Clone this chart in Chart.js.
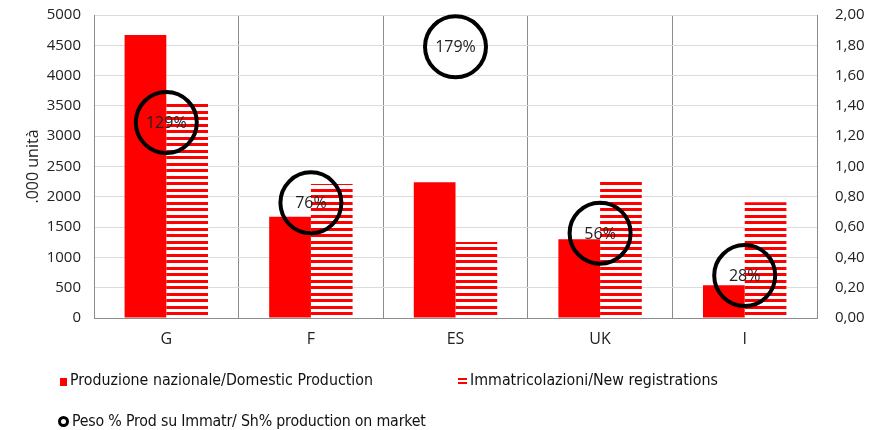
<!DOCTYPE html>
<html>
<head>
<meta charset="utf-8">
<script src="https://cdn.jsdelivr.net/npm/chart.js@4.4.1/dist/chart.umd.min.js"></script>
<style>
  html, body { margin: 0; padding: 0; background: #fff; }
  #wrap { position: relative; width: 885px; height: 430px; }
  .leg { position: absolute; font-family: "DejaVu Sans Condensed", sans-serif; font-size: 15.8px;
         line-height: 18px; color: #111; white-space: nowrap; }
  .mk { display: inline-block; vertical-align: -1px; margin-right: 3px; }
  .mk-solid { width: 7px; height: 8px; background: #ff0000; }
  .mk-stripe { width: 9px; height: 8px;
               background: repeating-linear-gradient(#ff0000 0 2px, #fff 2px 4px); }
  .mk-ring { width: 5px; height: 5px; border: 3px solid #000; border-radius: 50%; background: #fff; }
</style>
</head>
<body>
<div id="wrap">
  <canvas id="chart"></canvas>
  <div class="leg" style="left:60px; top:371px;"><span class="mk mk-solid"></span>Produzione nazionale/Domestic Production</div>
  <div class="leg" style="left:458px; top:371px;"><span class="mk mk-stripe"></span>Immatricolazioni/New registrations</div>
  <div class="leg" style="left:58px; top:412px; letter-spacing:-0.2px;"><span class="mk mk-ring"></span>Peso % Prod su Immatr/ Sh% production on market</div>
</div>
<script>
const categories = ["G", "F", "ES", "UK", "I"];
const domestic = [4670, 1670, 2240, 1300, 540];
const registrations = [3570, 2210, 1255, 2260, 1910];
const share = [1.29, 0.76, 1.79, 0.56, 0.28];

// horizontal red stripes for the registrations bars
function stripePattern() {
  const c = document.createElement("canvas");
  c.width = 4;
  c.height = 13;
  const g = c.getContext("2d");
  g.fillStyle = "#ffffff";
  g.fillRect(0, 0, 4, 13);
  g.fillStyle = "#ff0000";
  g.fillRect(0, 0, 4, 3);
  g.fillRect(0, 7, 4, 3);
  return g.createPattern(c, "repeat");
}

// writes the percentage in the middle of each circle
const shareLabels = {
  id: "shareLabels",
  afterDatasetsDraw(chart) {
    const meta = chart.getDatasetMeta(0);
    const ctx = chart.ctx;
    ctx.save();
    ctx.font = "16px 'Open Sans'";
    ctx.fillStyle = "#222";
    ctx.textAlign = "center";
    ctx.textBaseline = "middle";
    meta.data.forEach((pt, i) => {
      ctx.fillText(Math.round(share[i] * 100) + "%", pt.x, pt.y + 1);
    });
    ctx.restore();
  }
};

const gray = "#8c8c8c";

new Chart(document.getElementById("chart"), {
  data: {
    labels: categories,
    datasets: [
      {
        type: "line",
        label: "Peso % Prod su Immatr/ Sh% production on market",
        data: share,
        yAxisID: "y1",
        showLine: false,
        pointRadius: 30.5,
        pointHoverRadius: 30.5,
        pointBorderWidth: 4,
        pointBorderColor: "#000",
        pointBackgroundColor: "rgba(0,0,0,0)",
        clip: false,
        order: 0
      },
      {
        type: "bar",
        label: "Produzione nazionale/Domestic Production",
        data: domestic,
        yAxisID: "y",
        backgroundColor: "#ff0000",
        categoryPercentage: 0.577,
        barPercentage: 1,
        order: 1
      },
      {
        type: "bar",
        label: "Immatricolazioni/New registrations",
        data: registrations,
        yAxisID: "y",
        backgroundColor: stripePattern(),
        categoryPercentage: 0.577,
        barPercentage: 1,
        order: 1
      }
    ]
  },
  options: {
    responsive: true,
    maintainAspectRatio: false,
    animation: false,
    layout: { autoPadding: false, padding: { top: 15, left: 0, right: 0, bottom: 0 } },
    plugins: { legend: { display: false }, tooltip: { enabled: false } },
    scales: {
      x: {
        offset: true,
        grid: { color: gray, drawTicks: false, offset: true },
        border: { color: gray },
        ticks: { color: "#222", font: { family: "Open Sans", size: 16 }, padding: 12 },
        afterFit: s => { s.height = 112; }
      },
      y: {
        position: "left",
        min: 0,
        max: 5000,
        ticks: {
          stepSize: 500,
          color: "#222",
          font: { family: "Open Sans", size: 15 },
          padding: 2,
          callback: v => String(v)
        },
        // invisible tick marks keep the labels away from the axis without extra top padding
        grid: { color: "#dcdcdc", drawTicks: true, tickLength: 11, tickColor: "rgba(0,0,0,0)" },
        border: { color: gray },
        title: { display: true, text: ".000 unità", color: "#222", font: { family: "Open Sans", size: 16 }, padding: { top: 24, bottom: 0 } },
        afterFit: s => { s.width = 94; }
      },
      y1: {
        position: "right",
        min: 0,
        max: 2,
        ticks: {
          stepSize: 0.2,
          color: "#222",
          font: { family: "Open Sans", size: 15 },
          padding: 2,
          callback: v => v.toFixed(2).replace(".", ",")
        },
        grid: { display: false, drawTicks: true, tickLength: 16 },
        border: { color: gray },
        afterFit: s => { s.width = 68; }
      }
    }
  },
  plugins: [shareLabels]
});
</script>
</body>
</html>
